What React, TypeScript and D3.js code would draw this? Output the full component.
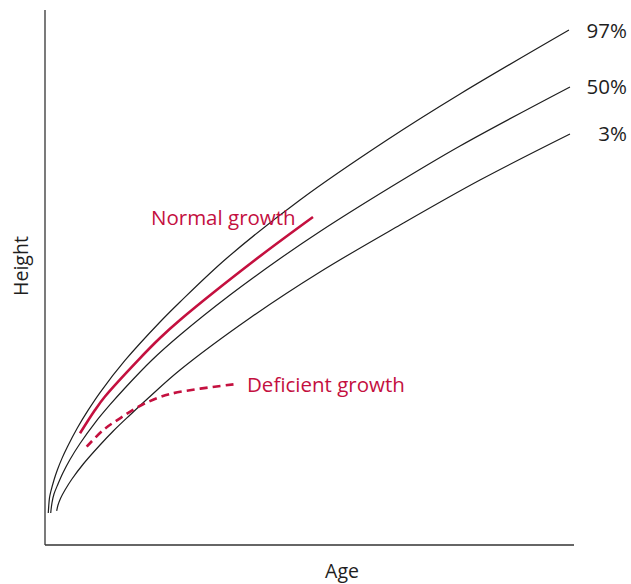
import React from "react";
import * as d3 from "d3";

const W = 631;
const H = 584;

// Growth percentile curves (age, height) in relative units 0..100
const p97Age = [0.62, 0.85, 1.08, 1.7, 2.33, 3.21, 4.22, 6.11, 8.13, 10.4, 15.12, 21.74, 25.52, 34.4, 48.2, 64.65, 78.45, 99.05];
const p97Height = [5.98, 8.82, 9.91, 12.15, 14.02, 16.19, 18.32, 21.87, 25.16, 28.5, 34.49, 41.68, 45.42, 53.64, 64.49, 75.7, 84.3, 96.26];

const p50Age = [1.08, 1.32, 1.7, 2.46, 3.4, 4.73, 6.62, 9.45, 12.29, 15.12, 20.23, 25.52, 34.97, 44.05, 51.98, 65.22, 78.45, 99.24];
const p50Height = [5.98, 7.89, 9.53, 11.4, 13.5, 15.98, 18.97, 22.84, 26.22, 29.35, 34.58, 39.25, 46.73, 53.27, 58.6, 66.82, 74.58, 85.61];

const p3Age = [2.21, 2.46, 2.97, 3.78, 5.1, 7.24, 10.4, 12.91, 16.07, 19.53, 25.52, 38.75, 51.98, 67.11, 82.23, 99.24];
const p3Height = [6.36, 7.48, 8.79, 10.28, 12.34, 15.14, 18.69, 21.31, 24.3, 27.48, 32.71, 42.43, 51.03, 59.81, 68.22, 76.82];

const normalAge = [6.62, 9.45, 11.34, 17.58, 21.74, 25.52, 39.7, 50.66];
const normalHeight = [20.88, 25.23, 27.76, 34.52, 38.69, 42.06, 53.27, 61.31];

const deficientAge = [7.88, 11.02, 14.18, 18.28, 23.63, 36.29];
const deficientHeight = [18.37, 21.5, 23.68, 26.17, 28.22, 30.09];

const percentileLabels = ["97%", "50%", "3%"];

const RED = "#c4103f";
const INK = "#1e1e1e";
const FONT = "'Open Sans', 'Noto Sans', sans-serif";

const zip = (a: number[], b: number[]) => a.map((v, i) => [v, b[i]] as [number, number]);

export default function App() {
  const x = d3.scaleLinear().domain([0, 100]).range([45, 574]);
  const y = d3.scaleLinear().domain([0, 100]).range([545, 10]);
  const line = d3
    .line<[number, number]>()
    .x((d) => x(d[0]))
    .y((d) => y(d[1]))
    .curve(d3.curveCatmullRom.alpha(0.5));

  const percentiles = [
    { label: percentileLabels[0], data: zip(p97Age, p97Height) },
    { label: percentileLabels[1], data: zip(p50Age, p50Height) },
    { label: percentileLabels[2], data: zip(p3Age, p3Height) },
  ];

  const labelY = [38, 94, 141];

  return (
    <svg
      width={W}
      height={H}
      style={{ position: "absolute", left: 0, top: 0, background: "#fff" }}
      fontFamily={FONT}
    >
      {/* axes */}
      <line x1={x(0)} y1={y(100)} x2={x(0)} y2={y(0)} stroke="#333" strokeWidth={1.3} />
      <line x1={x(0)} y1={y(0)} x2={x(100)} y2={y(0)} stroke="#333" strokeWidth={1.3} />

      {percentiles.map((p, i) => (
        <g key={p.label}>
          <path d={line(p.data) || ""} fill="none" stroke={INK} strokeWidth={1.2} />
          <text x={627} y={labelY[i]} textAnchor="end" fontSize={20.5} fill={INK}>
            {p.label}
          </text>
        </g>
      ))}

      <path
        d={line(zip(normalAge, normalHeight)) || ""}
        fill="none"
        stroke={RED}
        strokeWidth={2.6}
        strokeLinecap="butt"
      />
      <path
        d={line(zip(deficientAge, deficientHeight)) || ""}
        fill="none"
        stroke={RED}
        strokeWidth={2.6}
        strokeDasharray="8 5"
      />

      <text x={151} y={225} fontSize={20.5} fill={RED}>
        Normal growth
      </text>
      <text x={247} y={392} fontSize={20.5} fill={RED}>
        Deficient growth
      </text>

      <text x={342} y={578} textAnchor="middle" fontSize={19.5} fill={INK}>
        Age
      </text>
      <text
        transform={`translate(28,266) rotate(-90)`}
        textAnchor="middle"
        fontSize={19.5}
        fill={INK}
      >
        Height
      </text>
    </svg>
  );
}
